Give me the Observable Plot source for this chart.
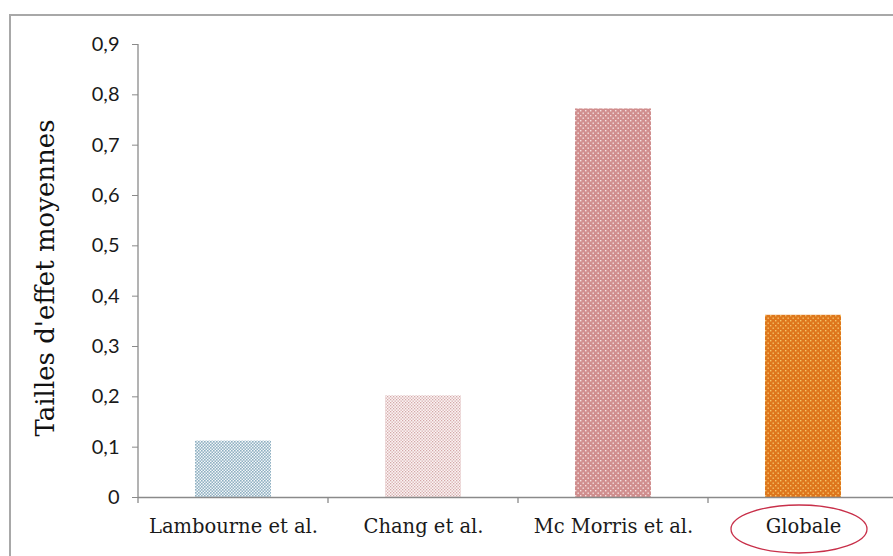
<!DOCTYPE html>
<html>
<head>
<meta charset="utf-8">
<script src="https://cdn.jsdelivr.net/npm/d3@7"></script>
<script src="https://cdn.jsdelivr.net/npm/@observablehq/plot@0.6"></script>
<style>
  html, body { margin: 0; padding: 0; background: #fff; }
</style>
</head>
<body>
<div id="chart"></div>
<script>
const categories = ["Lambourne et al.", "Chang et al.", "Mc Morris et al.", "Globale"];
const values = [0.112, 0.202, 0.772, 0.362];
const yTicks = [0, 0.1, 0.2, 0.3, 0.4, 0.5, 0.6, 0.7, 0.8, 0.9];
const yLabel = "Tailles d'effet moyennes";
const highlighted = "Globale";

const patternIds = ["pLamb", "pChang", "pMc", "pGlob"];
const data = categories.map((c, i) => ({cat: c, value: values[i]}));

const W = 893, H = 556;
const plot = Plot.plot({
  width: W,
  height: H,
  marginLeft: 138,
  marginTop: 44,
  marginBottom: 59,
  marginRight: 0,
  style: {background: "transparent", overflow: "visible"},
  x: {domain: categories, range: [138, 898], paddingInner: 0.6, paddingOuter: 0.3, label: null},
  y: {domain: [0, 0.9], range: [497, 44], label: null},
  color: {type: "ordinal", domain: categories, range: patternIds.map(id => `url(#${id})`)},
  marks: [
    Plot.barY(data, {x: "cat", y: "value", fill: "cat"}),
    Plot.axisY({
      ticks: yTicks,
      tickFormat: d => String(Math.round(d * 10) / 10).replace(".", ","),
      tickSize: 6,
      tickPadding: 13,
      fontSize: 20,
      fontFamily: "Lato",
      fill: "#1a1a1a",
      stroke: "#8a8a8a",
      label: null
    }),
    Plot.axisX({
      tickSize: 0,
      tickPadding: 22,
      fontSize: 19.5,
      fontFamily: "DejaVu Serif",
      fill: "#1a1a1a",
      label: null
    }),
    Plot.ruleY([0], {stroke: "#8a8a8a", strokeWidth: 1.3}),
    Plot.text([yLabel], {
      frameAnchor: "left", dx: -93, dy: 7, rotate: -90, textAnchor: "middle",
      fontSize: 26, fontFamily: "DejaVu Serif", fill: "#111"
    })
  ]
});

const svg = d3.select(plot);
const defs = svg.insert("defs", ":first-child");
function dots(id, bg, dot, size, r) {
  const p = defs.append("pattern").attr("id", id).attr("patternUnits", "userSpaceOnUse")
    .attr("width", size).attr("height", size);
  p.append("rect").attr("width", size).attr("height", size).attr("fill", bg);
  p.append("rect").attr("x", 0).attr("y", 0).attr("width", r).attr("height", r).attr("fill", dot);
  p.append("rect").attr("x", size / 2).attr("y", size / 2).attr("width", r).attr("height", r).attr("fill", dot);
}
dots("pLamb", "#f3f7f9", "#8fb0c2", 3, 1.6);
dots("pChang", "#fbf4f4", "#d4a8a8", 3, 1.3);
dots("pMc", "#d08e8e", "#f6e2e2", 5, 1.4);
dots("pGlob", "#de761c", "#f6c46a", 5, 1.4);

// frame
svg.insert("rect", "defs + *")
  .attr("x", 10).attr("y", 15).attr("width", 900).attr("height", 560)
  .attr("fill", "none").attr("stroke", "#a8a8a8").attr("stroke-width", 2);

const xs = plot.scale("x");
const ys = plot.scale("y");
const step = xs.step;
const y0 = ys.apply(0);
const g = svg.append("g").attr("stroke", "#8a8a8a").attr("stroke-width", 1.3);
// y axis line
g.append("line").attr("x1", xs.range[0]).attr("x2", xs.range[0])
  .attr("y1", ys.apply(0)).attr("y2", ys.apply(d3.max(yTicks)));
for (let i = 0; i <= categories.length; i++) {
  const bx = xs.range[0] + i * step;
  g.append("line").attr("x1", bx).attr("x2", bx).attr("y1", y0).attr("y2", y0 + 6);
}
// highlight ellipse
const cx = xs.apply(highlighted) + xs.bandwidth / 2;
svg.append("ellipse").attr("cx", cx - 4).attr("cy", 529).attr("rx", 68).attr("ry", 24)
  .attr("fill", "none").attr("stroke", "#c8304a").attr("stroke-width", 1.3);

document.getElementById("chart").appendChild(plot);
</script>
</body>
</html>
